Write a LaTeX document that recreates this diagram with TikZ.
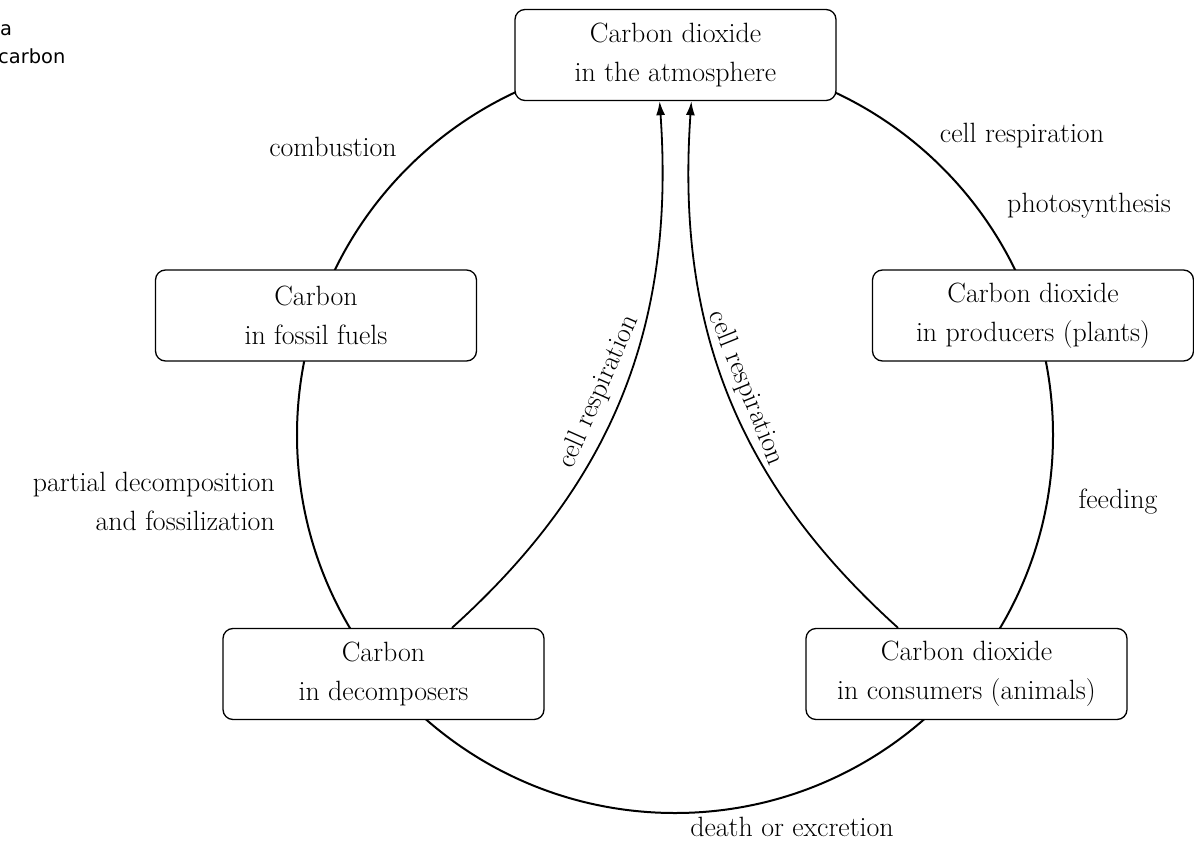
\documentclass[tikz,border=0pt]{standalone}
\usepackage{fontspec}
\newfontfamily\notefont{DejaVu Sans}
\usetikzlibrary{arrows.meta}
\newcommand\cyclefont{\fontsize{28}{39}\selectfont}
\newcommand\notesize{\fontsize{19.5}{28}\selectfont}
\begin{document}
\begin{tikzpicture}[x=1bp,y=1bp,
  pool/.style={draw, line width=1.3bp, rounded corners=10bp, fill=white,
    minimum width=321bp, minimum height=91bp, inner sep=0pt,
    align=center, font=\cyclefont},
  flowlabel/.style={inner sep=0pt, font=\cyclefont},
  notetext/.style={anchor=base west, inner sep=0pt, font=\notefont\notesize},
  cycleline/.style={line width=2bp},
  uptake/.style={line width=1.8bp, -{Latex[length=14bp,width=9bp]}}]

\useasboundingbox (0,0) rectangle (1194,-867);

% the cycle ring behind the reservoirs
\coordinate (hub) at (675,-435);
\draw[cycleline] (hub) circle[radius=378bp];

% carbon reservoirs
\node[pool] (atm)    at (675.5,-55)  {Carbon dioxide\\in the atmosphere};
\node[pool] (fossil) at (316,-315.5) {Carbon\\in fossil fuels};
\node[pool] (prod)   at (1033,-315.5) {Carbon dioxide\\in producers (plants)};
\node[pool] (dec)    at (383.5,-674) {Carbon\\in decomposers};
\node[pool] (cons)   at (966.5,-674) {Carbon dioxide\\in consumers (animals)};

% respiration returning carbon to the air
\draw[uptake] (dec.34)  to[out=42,in=-86]  (atm.251);
\draw[uptake] (cons.146) to[out=138,in=-94] (atm.289);
\node[flowlabel, rotate=66]  (resp-dec)  at (599,-392) {cell respiration};
\node[flowlabel, rotate=-68] (resp-cons) at (746,-388) {cell respiration};

% process labels around the ring
\node[flowlabel, anchor=base] (comb)     at (333,-156)  {combustion};
\node[flowlabel, anchor=base] (resp-atm) at (1022,-142) {cell respiration};
\node[flowlabel, anchor=base] (photo)    at (1089,-212) {photosynthesis};
\node[flowlabel, anchor=east, align=right] (fossilize) at (275,-501)
  {partial decomposition\\and fossilization};
\node[flowlabel, anchor=base] (feed)     at (1118,-508) {feeding};
\node[flowlabel, anchor=base] (death)    at (792,-836)  {death or excretion};

% margin note
\node[notetext] (note-a) at (0,-35)  {a};
\node[notetext] (note-c) at (-2,-63) {carbon};
\end{tikzpicture}
\end{document}
